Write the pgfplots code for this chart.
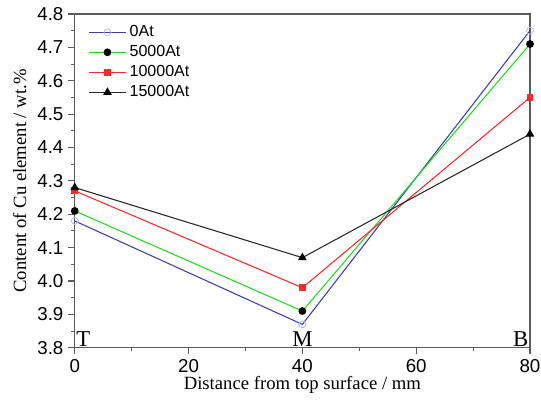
\documentclass[border=0pt]{standalone}
\usepackage{pgfplots}
\pgfplotsset{compat=1.18}
\usetikzlibrary{calc}
\usepackage{fontspec}
\setmainfont{Liberation Sans}
\newfontfamily\tnr{Liberation Serif}

\definecolor{c0}{RGB}{60,60,170}
\definecolor{c1}{RGB}{30,220,30}
\definecolor{c2}{RGB}{250,40,40}
\definecolor{c3}{RGB}{40,40,40}
\definecolor{axgray}{RGB}{90,90,90}

\begin{document}
\begin{tikzpicture}
\begin{axis}[
    scale only axis,
    width=341pt, height=250pt,
    xmin=0, xmax=80,
    ymin=3.8, ymax=4.8,
    xtick={0,20,...,80},
    minor xtick={10,30,50,70},
    ytick={3.8,3.9,...,4.81},
    minor ytick={3.85,3.95,...,4.76},
    yticklabel style={/pgf/number format/.cd,fixed,fixed zerofill,precision=1},
    /pgf/number format/assume math mode=true,
    tick label style={font=\fontsize{14}{16}\selectfont},
    tick align=outside,
    xtick pos=bottom, ytick pos=left,
    major tick length=5pt, minor tick length=2.5pt,
    axis line style={axgray, line width=0.8pt},
    every tick/.style={axgray, line width=0.8pt},
    xlabel={Distance from top surface / mm},
    ylabel={Content of Cu element / wt.\%},
    every axis x label/.style={at={(axis description cs:0.5,-0.112)}, anchor=center,
        font=\tnr\fontsize{14}{16}\selectfont},
    every axis y label/.style={at={(axis description cs:-0.121,0.5)}, rotate=90, anchor=center,
        font=\tnr\fontsize{14}{16}\selectfont},
    legend style={draw=none, fill=none, at={(axis description cs:0.029,0.976)}, anchor=north west,
        inner sep=0pt, font=\fontsize{12}{14}\selectfont,
        nodes={text height=8.5pt, text depth=2pt, inner sep=2.25pt}},
    legend cell align=left,
    legend image code/.code={
        \draw[mark repeat=2,mark phase=2] plot coordinates {(0pt,0pt)(14pt,0pt)(28pt,0pt)};},
    clip=false,
]
\addplot[c0, line width=0.8pt, mark=o, mark options={draw=c0!35, fill=white, line width=0.6pt}, mark size=2.6pt]
    coordinates {(0,4.18) (40,3.87) (80,4.75)};
\addlegendentry{0At}
\addplot[c1, line width=0.8pt, mark=*, mark options={draw=black, fill=black}, mark size=2.5pt]
    coordinates {(0,4.21) (40,3.91) (80,4.71)};
\addlegendentry{5000At}
\addplot[c2, line width=0.8pt, mark=square*, mark options={draw=c2, fill=c2}, mark size=2.2pt]
    coordinates {(0,4.27) (40,3.98) (80,4.55)};
\addlegendentry{10000At}
\addplot[c3, line width=0.8pt, mark=triangle*, mark options={draw=black, fill=black}, mark size=3pt]
    coordinates {(0,4.28) (40,4.07) (80,4.44)};
\addlegendentry{15000At}
\node[anchor=south west, inner sep=1pt, font=\tnr\fontsize{17}{19}\selectfont] at (axis cs:0,3.8) {T};
\node[anchor=south, inner sep=1pt, font=\tnr\fontsize{17}{19}\selectfont] at (axis cs:40,3.8) {M};
\node[anchor=south east, inner sep=1pt, font=\tnr\fontsize{17}{19}\selectfont] at (axis cs:80,3.8) {B};
\end{axis}
\pgfresetboundingbox
\path ($(current axis.south west)+(-56pt,-48.75pt)$) rectangle ($(current axis.north east)+(8.25pt,10.5pt)$);
\end{tikzpicture}
\end{document}
